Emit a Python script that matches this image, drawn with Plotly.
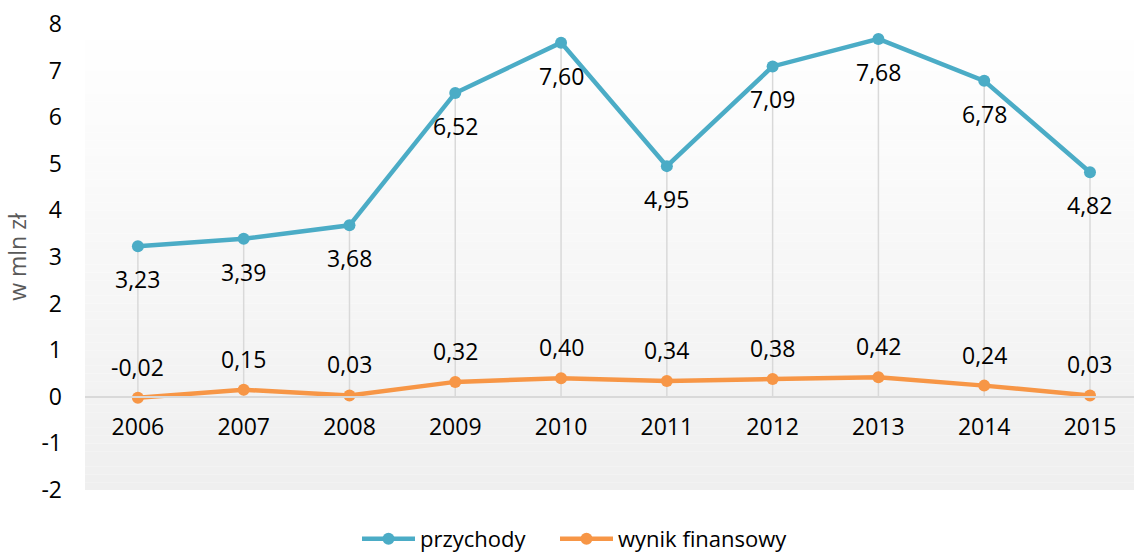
import plotly.graph_objects as go

years = ["2006", "2007", "2008", "2009", "2010", "2011", "2012", "2013", "2014", "2015"]
przychody = [3.23, 3.39, 3.68, 6.52, 7.60, 4.95, 7.09, 7.68, 6.78, 4.82]
wynik = [-0.02, 0.15, 0.03, 0.32, 0.40, 0.34, 0.38, 0.42, 0.24, 0.03]
y_ticks = [-2, -1, 0, 1, 2, 3, 4, 5, 6, 7, 8]
y_ticktext = ["-2", "-1", "0", "1", "2", "3", "4", "5", "6", "7", "8"]

BLUE = "#4bacc6"
ORANGE = "#f79646"
GRID = "#d9d9d9"
FONT = "Open Sans"

idx = list(range(len(years)))

fig = go.Figure()
fig.add_trace(go.Scatter(
    x=idx, y=przychody, name="przychody", mode="lines+markers",
    line=dict(color=BLUE, width=4.5), marker=dict(color=BLUE, size=12),
    legend="legend",
))
fig.add_trace(go.Scatter(
    x=idx, y=wynik, name="wynik finansowy", mode="lines+markers",
    line=dict(color=ORANGE, width=4.5), marker=dict(color=ORANGE, size=12),
    legend="legend2",
))

shapes = []
# vertical gradient background of the plot area
n = 60
top = (255, 255, 255)
bot = (239, 239, 239)
for i in range(n):
    f = (i + 0.5) / n
    c = tuple(round(bot[k] + (top[k] - bot[k]) * f) for k in range(3))
    shapes.append(dict(type="rect", xref="paper", yref="paper",
                       x0=0, x1=1, y0=i / n, y1=(i + 1) / n,
                       fillcolor="rgb(%d,%d,%d)" % c, line=dict(width=0),
                       layer="below"))
# drop lines
for i, v in zip(idx, przychody):
    shapes.append(dict(type="line", xref="x", yref="y", x0=i, x1=i,
                       y0=0, y1=v, line=dict(color=GRID, width=1.5),
                       layer="below"))

def fmt(v):
    return ("%.2f" % v).replace(".", ",")

annotations = []
for i, v in zip(idx, przychody):
    annotations.append(dict(x=i, y=v, xref="x", yref="y", text=fmt(v),
                            showarrow=False, yshift=-33,
                            font=dict(family=FONT, size=23, color="#000000")))
for i, v in zip(idx, wynik):
    annotations.append(dict(x=i, y=v, xref="x", yref="y", text=fmt(v),
                            showarrow=False, yshift=31,
                            font=dict(family=FONT, size=23, color="#000000")))

legend_common = dict(orientation="h", xanchor="left", y=-0.105,
                     yanchor="middle", itemwidth=53,
                     font=dict(family=FONT, size=22, color="#000000"),
                     bgcolor="rgba(0,0,0,0)")

fig.update_layout(
    width=1134, height=556,
    margin=dict(l=85, r=0, t=24, b=66, autoexpand=False),
    paper_bgcolor="white",
    plot_bgcolor="rgba(0,0,0,0)",
    font=dict(family=FONT, size=23, color="#000000"),
    shapes=shapes,
    annotations=annotations,
    showlegend=True,
    legend=dict(x=(357 - 85) / 1049, **legend_common),
    legend2=dict(x=(555 - 85) / 1049, **legend_common),
    xaxis=dict(range=[-0.5, 9.416], anchor="free", position=0.2,
               tickvals=idx, ticktext=years, automargin=False,
               showgrid=False, showline=True, linecolor=GRID, linewidth=1.5,
               ticks="", ticklabelstandoff=10, zeroline=False,
               tickfont=dict(family=FONT, size=23, color="#000000")),
    yaxis=dict(range=[-2, 8], tickvals=y_ticks, ticktext=y_ticktext,
               showgrid=False, zeroline=False, automargin=False,
               showline=False, ticks="", ticklabelstandoff=22,
               tickfont=dict(family=FONT, size=23, color="#000000"),
               title=dict(text="w mln zł", standoff=8,
                          font=dict(family=FONT, size=23, color="#595959"))),
)

fig.write_html("out.html", config={"displayModeBar": False},
               post_script="document.body.style.margin='0px';document.body.style.overflow='hidden';")
